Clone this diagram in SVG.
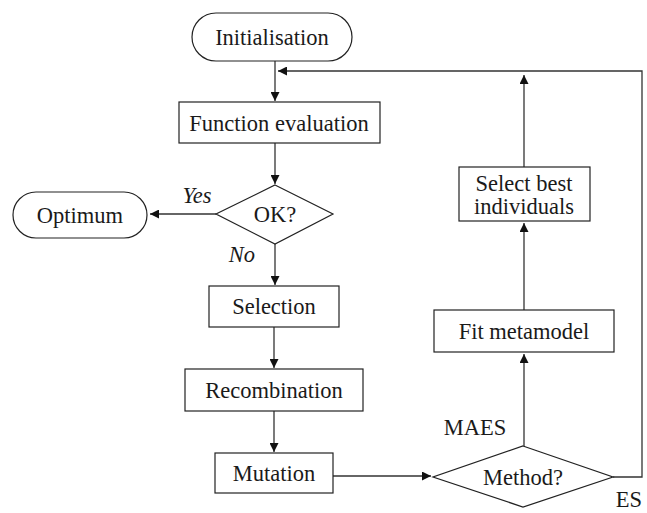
<svg xmlns="http://www.w3.org/2000/svg" width="647" height="513" viewBox="0 0 647 513">
<defs>
<marker id="ah" viewBox="0 0 10 10" refX="10" refY="5" markerWidth="14" markerHeight="9" markerUnits="userSpaceOnUse" orient="auto">
<path d="M0,0 L10,5 L0,10 z" fill="#111"/>
</marker>
<style>
.b{fill:#fff;stroke:#222;stroke-width:1.2}
.t{font-family:"Liberation Serif","Times New Roman",serif;font-size:22.5px;fill:#1a1a1a;text-anchor:middle}
.i{font-style:italic}
.c{fill:none;stroke:#333;stroke-width:1.3}
</style>
</defs>
<rect width="647" height="513" fill="#fff"/>
<g id="connectors">
<line class="c" x1="275" y1="61" x2="275" y2="101" marker-end="url(#ah)"/>
<polyline class="c" points="613,477 642,477 642,71 278,71" marker-end="url(#ah)"/>
<line class="c" x1="275" y1="143" x2="275" y2="184" marker-end="url(#ah)"/>
<line class="c" x1="216" y1="214" x2="150" y2="214" marker-end="url(#ah)"/>
<line class="c" x1="275" y1="244" x2="275" y2="285" marker-end="url(#ah)"/>
<line class="c" x1="274" y1="327" x2="274" y2="368" marker-end="url(#ah)"/>
<line class="c" x1="274" y1="411" x2="274" y2="452" marker-end="url(#ah)"/>
<line class="c" x1="333" y1="476" x2="431" y2="476" marker-end="url(#ah)"/>
<line class="c" x1="524" y1="446" x2="524" y2="354" marker-end="url(#ah)"/>
<line class="c" x1="524" y1="310" x2="524" y2="223" marker-end="url(#ah)"/>
<line class="c" x1="524" y1="167" x2="524" y2="75" marker-end="url(#ah)"/>
<text class="t i" x="197" y="203">Yes</text>
<text class="t i" x="242" y="262">No</text>
<text class="t" x="475" y="435">MAES</text>
<text class="t" x="629" y="507">ES</text>
</g>
<g id="init">
<rect class="b" x="192" y="13" width="160" height="48" rx="24"/>
<text class="t" x="272" y="45">Initialisation</text>
</g>
<g id="feval">
<rect class="b" x="179" y="102" width="201" height="41"/>
<text class="t" x="279" y="131">Function evaluation</text>
</g>
<g id="ok">
<polygon class="b" points="275,185 333,214 275,244 216,214"/>
<text class="t" x="275" y="222">OK?</text>
</g>
<g id="optimum">
<rect class="b" x="13" y="192" width="134" height="46" rx="23"/>
<text class="t" x="80" y="223">Optimum</text>
</g>
<g id="selection">
<rect class="b" x="209" y="286" width="130" height="41"/>
<text class="t" x="274" y="314">Selection</text>
</g>
<g id="recombination">
<rect class="b" x="185" y="369" width="178" height="42"/>
<text class="t" x="274" y="398">Recombination</text>
</g>
<g id="mutation">
<rect class="b" x="215" y="453" width="118" height="40"/>
<text class="t" x="274" y="481">Mutation</text>
</g>
<g id="method">
<polygon class="b" points="523,446 613,477 523,507 433,477"/>
<text class="t" x="523" y="485">Method?</text>
</g>
<g id="fit">
<rect class="b" x="434" y="310" width="180" height="42"/>
<text class="t" x="524" y="339">Fit metamodel</text>
</g>
<g id="best">
<rect class="b" x="459" y="167" width="131" height="54"/>
<text class="t" x="524" y="191">Select best</text>
<text class="t" x="524" y="214">individuals</text>
</g>
</svg>
